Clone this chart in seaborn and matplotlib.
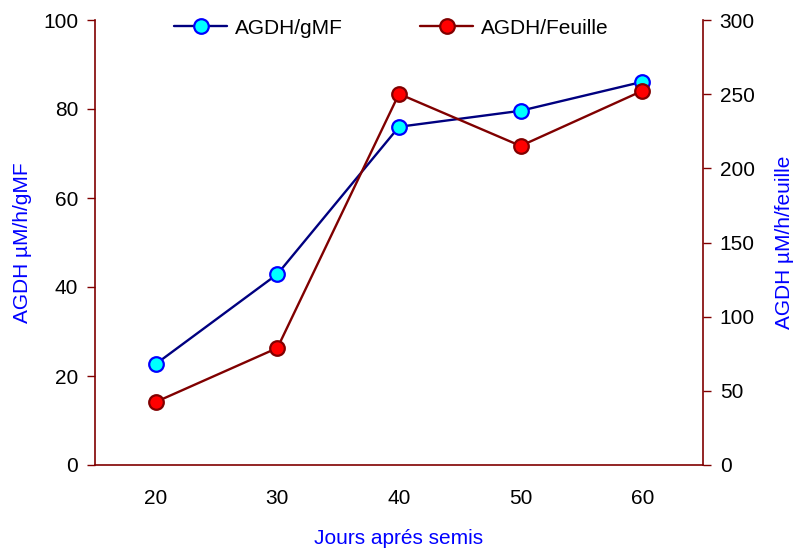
import matplotlib
matplotlib.use("Agg")
import matplotlib.pyplot as plt
import seaborn as sns
import numpy as np

sns.set_style("white")
plt.rcParams['font.family'] = ['Liberation Sans', 'DejaVu Sans']
plt.rcParams['text.color'] = 'black'
plt.rcParams['xtick.color'] = 'black'
plt.rcParams['ytick.color'] = 'black'

days = [20, 30, 40, 50, 60]
agdh_gmf = [22.7, 42.9, 76.0, 79.6, 86.1]
agdh_feuille = [42.5, 78.9, 250.2, 215.1, 252.2]

spine_col = "#800000"
fs = 15

fig = plt.figure(figsize=(7.94, 5.51), dpi=100)
ax = fig.add_axes([95/794, 86/551, 608/794, 445/551])
ax2 = ax.twinx()

pos = np.arange(len(days))

sns.lineplot(x=pos, y=agdh_gmf, ax=ax, color="#000080", lw=1.7,
             marker="o", markersize=10.5, markerfacecolor="#00FFFF",
             markeredgecolor="#0000FF", markeredgewidth=1.6, label="AGDH/gMF",
             legend=False)
sns.lineplot(x=pos, y=agdh_feuille, ax=ax2, color="#800000", lw=1.7,
             marker="o", markersize=10.5, markerfacecolor="#FF0000",
             markeredgecolor="#800000", markeredgewidth=1.6, label="AGDH/Feuille",
             legend=False)

ax.set_xlim(-0.5, len(days) - 0.5)
ax.set_ylim(0, 100)
ax2.set_ylim(0, 300)
ax.set_yticks([0, 20, 40, 60, 80, 100])
ax2.set_yticks([0, 50, 100, 150, 200, 250, 300])

ax.set_xticks(np.arange(-0.5, len(days), 1.0))
ax.set_xticklabels([])
ax.set_xticks(pos, minor=True)
ax.set_xticklabels([str(d) for d in days], minor=True)
ax.tick_params(axis="x", which="major", direction="out", length=6, color=spine_col, width=1)
ax.tick_params(axis="x", which="minor", length=0, labelsize=fs, pad=17, labelcolor="black")
ax.tick_params(axis="y", direction="out", length=6, color=spine_col, width=1,
               labelsize=fs, pad=6, labelcolor="black")
ax2.tick_params(axis="y", direction="out", length=6, color=spine_col, width=1,
                labelsize=fs, pad=6, labelcolor="black")

for a in (ax, ax2):
    for s in ("left", "right", "bottom"):
        a.spines[s].set_color(spine_col)
        a.spines[s].set_linewidth(1.2)
    a.spines["top"].set_visible(False)
ax.spines["right"].set_visible(False)
ax2.spines["left"].set_visible(False)
ax2.spines["bottom"].set_visible(False)
ax.grid(False)
ax2.grid(False)

ax.set_xlabel("Jours aprés semis", color="#0000FF", fontsize=fs, va="center")
ax.set_ylabel("AGDH µM/h/gMF", color="#0000FF", fontsize=fs, va="center")
ax2.set_ylabel("AGDH µM/h/feuille", color="#0000FF", fontsize=fs, va="center")
ax.xaxis.set_label_coords(0.5, (465 - 539) / 445)
ax.yaxis.set_label_coords((23 - 95) / 608, 0.5)
ax2.yaxis.set_label_coords((784 - 95) / 608, 0.5)

h1, l1 = ax.get_legend_handles_labels()
h2, l2 = ax2.get_legend_handles_labels()
fig.legend(h1 + h2, l1 + l2, loc="center", bbox_to_anchor=(391.5/794, 1 - 28/551),
           ncol=2, frameon=False, fontsize=fs, handlelength=2.5,
           columnspacing=3.73, handletextpad=0.4)

fig.savefig("out.png", dpi=100)
